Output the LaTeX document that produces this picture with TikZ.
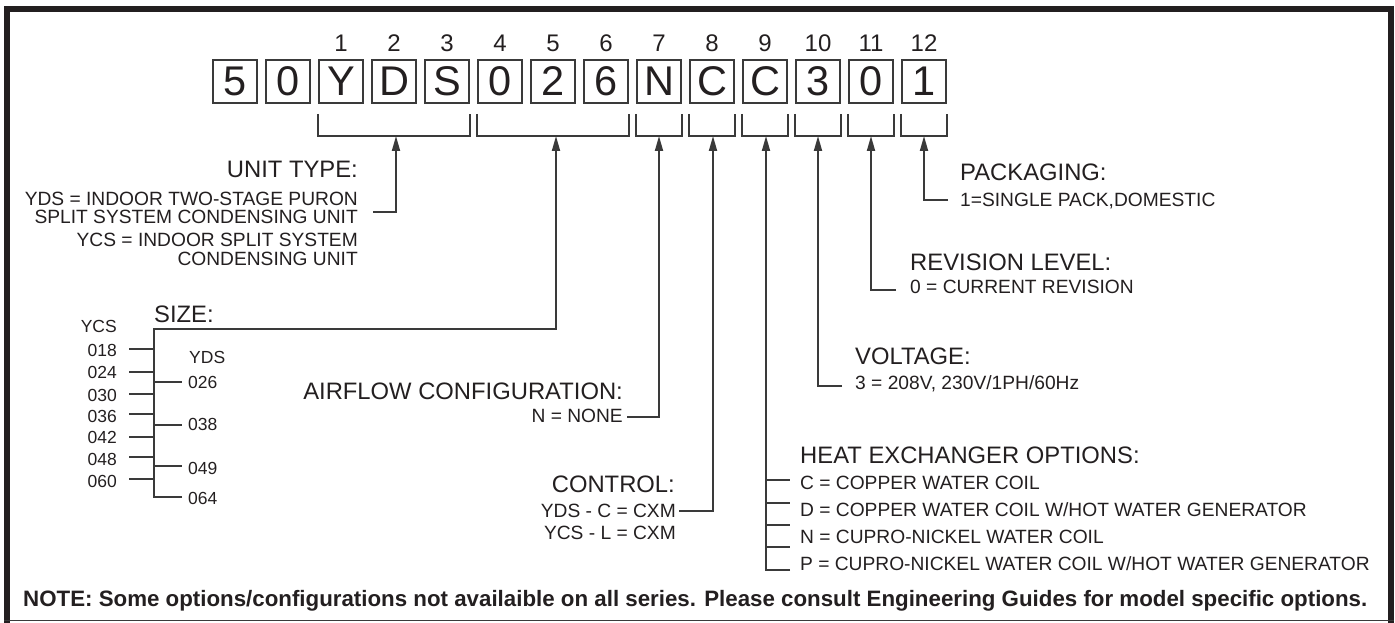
\documentclass[tikz,border=0pt]{standalone}
\usepackage{fontspec}
\setmainfont{Liberation Sans}
\usetikzlibrary{arrows.meta}
\definecolor{ink}{HTML}{231F20}
\definecolor{ln}{HTML}{3A3A3A}
\begin{document}
\begin{tikzpicture}[x=1pt,y=-1pt,
  every node/.style={inner sep=0pt,text=ink},
  digitbox/.style={draw=ln,line width=1.6pt,minimum width=44pt,minimum height=43pt,font=\fontsize{41.5}{45}\selectfont},
  numlbl/.style={anchor=base,font=\fontsize{24}{28}\selectfont},
  head/.style={font=\fontsize{23.8}{27}\selectfont},
  body/.style={font=\fontsize{19.2}{22}\selectfont},
  sz/.style={font=\fontsize{17.5}{20}\selectfont},
  conn/.style={draw=ln,line width=1.8pt},
  arr/.style={conn,-{Triangle[length=15pt,width=8pt]}},
  frame/.style={draw=ink,line width=6pt}]
\useasboundingbox (0,0) rectangle (1395,623);
% frame
\draw[frame] (7,623) -- (7,9.5) -- (1391,9.5) -- (1391,623);
\draw[draw=ln,line width=1.6pt] (4,620.5) -- (1394,620.5);
% digit boxes
\foreach \t [count=\i from 0] in {5,0,Y,D,S,0,2,6,N,C,C,3,0,1}{
  \node[digitbox] (d\i) at (235+53*\i,81.5) {\t};
}
\foreach \i in {1,...,12}{
  \pgfmathtruncatemacro\k{\i+1}
  \node[numlbl] (n\i) at (235+53*\k,52) {\i};
}
% brackets
\draw[conn] ([yshift=-10pt]d2.south west) -- ++(0,22) -| ([yshift=-10pt]d4.south east);
\draw[conn] ([yshift=-10pt]d5.south west) -- ++(0,22) -| ([yshift=-10pt]d7.south east);
\foreach \i in {8,...,13}{
  \draw[conn] ([yshift=-10pt]d\i.south west) -- ++(0,22) -| ([yshift=-10pt]d\i.south east);
}
% unit type
\node[head,anchor=base east] (ut) at (358,177) {UNIT TYPE:};
\node[body,anchor=base east] (ut1) at (358,205) {YDS = INDOOR TWO-STAGE PURON};
\node[body,anchor=base east] (ut2) at (358,223) {SPLIT SYSTEM CONDENSING UNIT};
\node[body,anchor=base east] (ut3) at (358,246) {YCS = INDOOR SPLIT SYSTEM};
\node[body,anchor=base east] (ut4) at (358,265) {CONDENSING UNIT};
\coordinate (ut-s) at (373,212);
\coordinate (ut-t) at (396,136);
\draw[arr] (ut-s) -| (ut-t);
% size
\node[head,anchor=base west] (sz) at (154,322) {SIZE:};
\node[sz,anchor=base east] (ycs) at (117,332) {YCS};
\foreach \v/\b/\t in {018/356/349,024/378/372,030/401/394,036/422/414,042/443/437,048/465/457,060/487/479}{
  \node[sz,anchor=base east] (c\v) at (117,\b) {\v};
  \draw[conn] (129,\t) -- (154,\t);
}
\node[sz,anchor=base west] (yds) at (189,363) {YDS};
\foreach \v/\b/\t in {026/388/382,038/430/425,049/474/466}{
  \node[sz,anchor=base west] (y\v) at (188,\b) {\v};
  \draw[conn] (154,\t) -- (182,\t);
}
\node[sz,anchor=base west] (y064) at (188,504) {064};
\coordinate (sz-s) at (182,497);
\coordinate (sz-c) at (154,329);
\coordinate (sz-t) at (556,136);
\draw[arr] (sz-s) -| (sz-c) -| (sz-t);
% airflow
\node[head,anchor=base east] (af) at (623,399) {AIRFLOW CONFIGURATION:};
\node[body,anchor=base east] (af1) at (623,422) {N = NONE};
\coordinate (af-s) at (627,417);
\coordinate (af-t) at (659,136);
\draw[arr] (af-s) -| (af-t);
% control
\node[head,anchor=base east] (ct) at (675,492) {CONTROL:};
\node[body,anchor=base east] (ct1) at (676,517) {YDS - C = CXM};
\node[body,anchor=base east] (ct2) at (676,539) {YCS - L = CXM};
\coordinate (ct-s) at (679,511);
\coordinate (ct-t) at (713,136);
\draw[arr] (ct-s) -| (ct-t);
% heat exchanger
\node[head,anchor=base west] (hx) at (800,463) {HEAT EXCHANGER OPTIONS:};
\node[body,anchor=base west] (hx1) at (800,489) {C = COPPER WATER COIL};
\node[body,anchor=base west] (hx2) at (800,516) {D = COPPER WATER COIL W/HOT WATER GENERATOR};
\node[body,anchor=base west] (hx3) at (800,543) {N = CUPRO-NICKEL WATER COIL};
\node[body,anchor=base west] (hx4) at (800,570) {P = CUPRO-NICKEL WATER COIL W/HOT WATER GENERATOR};
\coordinate (hx-s) at (790,570);
\coordinate (hx-t) at (766,136);
\draw[arr] (hx-s) -| (hx-t);
\foreach \t in {480,503,525,547}{ \draw[conn] (766,\t) -- (790,\t); }
% voltage
\node[head,anchor=base west] (vo) at (855,364) {VOLTAGE:};
\node[body,anchor=base west] (vo1) at (855,389) {3 = 208V, 230V/1PH/60Hz};
\coordinate (vo-s) at (842,386);
\coordinate (vo-t) at (818,136);
\draw[arr] (vo-s) -| (vo-t);
% revision
\node[head,anchor=base west] (rv) at (910,270) {REVISION LEVEL:};
\node[body,anchor=base west] (rv1) at (910,293) {0 = CURRENT REVISION};
\coordinate (rv-s) at (896,290);
\coordinate (rv-t) at (871,136);
\draw[arr] (rv-s) -| (rv-t);
% packaging
\node[head,anchor=base west] (pk) at (960,180) {PACKAGING:};
\node[body,anchor=base west] (pk1) at (960,206) {1=SINGLE PACK,DOMESTIC};
\coordinate (pk-s) at (948,200);
\coordinate (pk-t) at (924,136);
\draw[arr] (pk-s) -| (pk-t);
% note
\node[anchor=base west,font=\bfseries\fontsize{22.3}{26}\selectfont] (note) at (23,606) {NOTE: Some options/configurations not availaible on all series. Please consult Engineering Guides for model specific options.};
\end{tikzpicture}
\end{document}
